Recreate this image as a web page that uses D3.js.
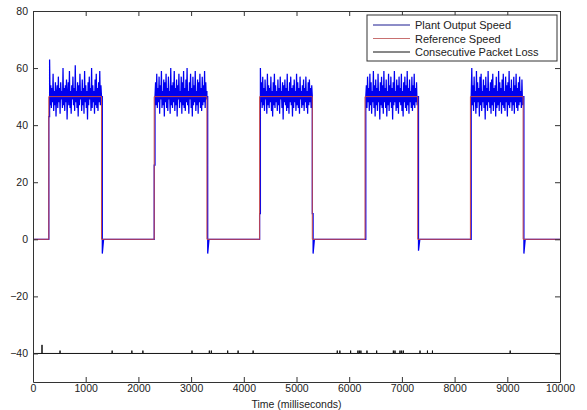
<!DOCTYPE html>
<html>
<head>
<meta charset="utf-8">
<script src="https://cdn.jsdelivr.net/npm/d3@7"></script>
<style>
  body { margin: 0; background: #fff; }
  svg { display: block; font-family: "Liberation Sans", Arial, sans-serif; }
  .axis text { font-size: 10.5px; fill: #222; }
  .axis path, .axis line { stroke: #333; }
</style>
</head>
<body>
<div id="viz"></div>
<script>
// reference speed square wave
const pulseStarts = [300, 2300, 4300, 6300, 8300];
const pulseLength = 1000;
const refLevel = 50;
const timeEnd = 10000;

// plant output, one array per pulse
const plantPulse1 = [63,47,54,46,53,48,58,45,52,47,55,43,51,54,46,57,48,53,44,55,49,52,46,60,47,53,45,54,48,56,42,51,55,47,59,46,52,44,54,49,57,47,53,45,61,48,52,46,55,43,54,47,58,49,52,45,56,47,53,44,59,48,54,46,52,42,55,47,57,49,53,45,60,46,54,48,52,44,56,47,58,46,53,45,55,48,59,47,54,50];
const plantPulse2 = [50,55,47,58,46,53,48,57,44,54,49,59,46,52,47,56,43,55,48,58,46,53,45,57,49,52,44,60,47,54,46,55,48,59,45,53,47,56,43,54,49,58,46,52,48,57,44,55,47,59,46,53,45,56,48,60,47,52,44,55,49,58,46,53,43,57,47,54,48,59,45,52,47,56,44,55,48,58,46,53,45,57,47,54,48,59,46,55,49,52];
const plantPulse3 = [60,48,55,46,57,47,53,45,56,49,52,44,58,47,54,46,53,48,57,45,52,43,55,47,58,46,54,48,52,45,56,47,53,44,57,49,52,46,55,42,54,48,56,47,53,45,58,46,52,44,55,48,57,47,53,43,54,46,56,48,52,45,58,47,55,46,53,44,57,49,52,46,54,47,56,45,53,48,57,46,52,44,55,47,56,48,53,46,54,50];
const plantPulse4 = [50,54,46,57,48,53,45,58,47,55,44,52,48,59,46,54,43,56,47,53,45,58,48,52,42,55,47,57,46,54,44,59,48,53,46,56,43,52,47,58,45,54,48,57,46,53,42,55,47,59,48,52,45,56,46,54,44,57,48,53,47,58,45,52,43,55,48,57,46,54,45,59,47,53,44,56,48,52,46,57,45,54,47,58,46,53,48,55,47,50];
const plantPulse5 = [50,60,47,54,45,57,48,52,44,59,46,55,48,53,43,57,47,58,45,52,48,56,46,54,42,57,47,53,45,59,48,52,46,55,44,56,47,58,45,53,48,54,43,57,46,52,47,59,45,55,48,53,44,56,47,58,46,52,45,57,48,54,43,55,47,59,46,53,48,56,45,52,47,57,44,54,48,58,46,53,45,55,47,57,48,52,46,56,47,50];
const plantPulses = [plantPulse1, plantPulse2, plantPulse3, plantPulse4, plantPulse5];
// where the plant trace leaves the reference at each edge, and the undershoot
const riseFrom = [43, 26, 9, 0, 0];
const fallTo = [50, 50, 9, 50, 50];
const fallDip = [-5, -5, -5, -4, -5];

// consecutive packet loss, drawn on a -40 baseline
const lossBase = -40;
const lossTimes = [171, 513, 1502, 1876, 2085, 3017, 3346, 3384, 3694, 3892, 4177, 5774, 5823, 6027, 6165, 6192, 6222, 6337, 6521, 6838, 6869, 6964, 6996, 7028, 7344, 7485, 7580, 9055];
const lossCounts = [3, 1, 1, 1, 1, 1, 1, 1, 1, 1, 1, 1, 1, 1, 1, 1, 1, 1, 1, 1, 1, 1, 1, 1, 1, 1, 1, 1];

const xTicks = d3.range(0, 10001, 1000);
const yTicks = [-40, -20, 0, 20, 40, 60, 80];

const width = 587, height = 410;
const margin = { top: 11, right: 27, bottom: 28, left: 33 };

const svg = d3.select('#viz').append('svg')
  .attr('width', width)
  .attr('height', height);

const x = d3.scaleLinear().domain([0, timeEnd]).range([margin.left, width - margin.right]);
const y = d3.scaleLinear().domain([-50, 80]).range([height - margin.bottom, margin.top]);

// build series
const refPoints = [[0, 0]];
pulseStarts.forEach(s => {
  refPoints.push([s, 0], [s, refLevel], [s + pulseLength, refLevel], [s + pulseLength, 0]);
});
refPoints.push([timeEnd, 0]);

const off = 15; // plant edge lags the reference slightly
const plantPoints = [[0, 0]];
pulseStarts.forEach((s, k) => {
  const vals = plantPulses[k];
  const step = (pulseLength - off) / (vals.length - 1);
  plantPoints.push([s, 0], [s, riseFrom[k]], [s + off, riseFrom[k]]);
  vals.forEach((v, i) => plantPoints.push([s + off + i * step, v]));
  const e = s + pulseLength;
  plantPoints.push([e, fallTo[k]], [e + off, fallTo[k]], [e + off, fallDip[k]], [e + 40, 0]);
});
plantPoints.push([timeEnd, 0]);

const lossPoints = [[0, lossBase]];
lossTimes.forEach((t, i) => {
  lossPoints.push([t, lossBase], [t, lossBase + lossCounts[i]], [t, lossBase]);
});
lossPoints.push([timeEnd, lossBase]);

const line = d3.line().x(d => x(d[0])).y(d => y(d[1]));

const plot = svg.append('g');
plot.append('path').datum(plantPoints)
  .attr('d', line).attr('fill', 'none').attr('stroke', '#0000f0').attr('stroke-width', 1.25);
plot.append('path').datum(refPoints)
  .attr('d', line).attr('fill', 'none').attr('stroke', '#c84848').attr('stroke-width', 1);
plot.append('path').datum(lossPoints)
  .attr('d', line).attr('fill', 'none').attr('stroke', '#111').attr('stroke-width', 1);

// axes, MATLAB style: inward ticks on all four sides
const tl = 5;
svg.append('g').attr('class', 'axis')
  .attr('transform', `translate(0,${y(-50)})`)
  .call(d3.axisBottom(x).tickValues(xTicks).tickFormat(d3.format('d')).tickSize(-tl).tickPadding(3).tickSizeOuter(0));
svg.append('g').attr('class', 'axis')
  .attr('transform', `translate(0,${y(80)})`)
  .call(d3.axisTop(x).tickValues(xTicks).tickSize(-tl).tickFormat('').tickSizeOuter(0));
svg.append('g').attr('class', 'axis')
  .attr('transform', `translate(${x(0)},0)`)
  .call(d3.axisLeft(y).tickValues(yTicks).tickSize(-tl).tickPadding(5).tickSizeOuter(0));
svg.append('g').attr('class', 'axis')
  .attr('transform', `translate(${x(timeEnd)},0)`)
  .call(d3.axisRight(y).tickValues(yTicks).tickSize(-tl).tickFormat('').tickSizeOuter(0));
svg.selectAll('.axis .domain').attr('stroke', '#333');

svg.append('text')
  .attr('x', (x(0) + x(timeEnd)) / 2)
  .attr('y', height - 2)
  .attr('text-anchor', 'middle')
  .attr('font-size', '10.5px')
  .attr('fill', '#222')
  .text('Time (milliseconds)');

// legend
const legendItems = [
  { label: 'Plant Output Speed', color: '#1a1a90' },
  { label: 'Reference Speed', color: '#c87070' },
  { label: 'Consecutive Packet Loss', color: '#111' },
];
const lg = svg.append('g').attr('transform', 'translate(367,15)');
lg.append('rect').attr('width', 190).attr('height', 46)
  .attr('fill', '#fff').attr('stroke', '#333');
legendItems.forEach((d, i) => {
  const row = lg.append('g').attr('transform', `translate(0,${10 + i * 13.5})`);
  row.append('line').attr('x1', 6).attr('x2', 43).attr('stroke', d.color);
  row.append('text').attr('x', 48).attr('y', 4).attr('font-size', '11px').attr('fill', '#222').text(d.label);
});
</script>
</body>
</html>
